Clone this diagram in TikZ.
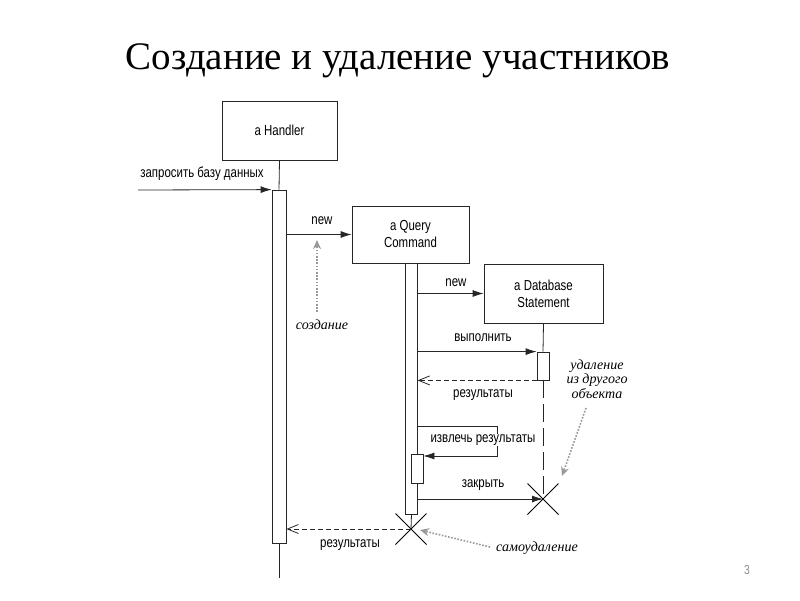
\documentclass[tikz,border=0pt]{standalone}
\usepackage{fontspec}
\setmainfont{Liberation Serif}
\newfontfamily\labfont[FakeStretch=0.79]{Liberation Sans}
\newfontfamily\notefont{Liberation Serif}
\usetikzlibrary{arrows.meta,shapes.misc}
\begin{document}
\begin{tikzpicture}[x=1pt,y=-1pt,
  lab/.style={font=\labfont\fontsize{14.5}{16}\selectfont, text=black, inner sep=0pt},
  objbox/.style={draw=black!85, line width=0.8pt, fill=white, align=center,
     font=\labfont\fontsize{14.5}{17}\selectfont, text=black, inner sep=0pt},
  actbar/.style={draw=black!85, line width=0.8pt, fill=white, inner sep=0pt, minimum width=12pt},
  life/.style={draw=black!85, line width=0.8pt},
  msg/.style={draw=black!85, line width=0.8pt, -{Latex[length=11pt,width=7pt]}},
  ret/.style={draw=black!85, line width=0.8pt, dash pattern=on 5pt off 3pt, -{Straight Barb[length=11pt,width=9pt]}},
  notearrow/.style={draw=black!40, line width=1.6pt, dash pattern=on 1.6pt off 1.6pt, -{Stealth[length=9pt,width=8pt]}},
  note/.style={font=\notefont\itshape\fontsize{14}{14.5}\selectfont, text=black, align=center, inner sep=0pt},
  killx/.style={draw=black, line width=1pt, cross out, minimum size=30pt, inner sep=0pt}
]
\useasboundingbox (0,0) rectangle (800,600);
% title
\node[font=\fontsize{39}{42}\selectfont, anchor=base, inner sep=0pt] (title) at (398,69) {Создание и удаление участников};
% objects
\node[objbox, minimum width=115pt, minimum height=59pt] (hbox) at (279.5,130.5) {a Handler};
\node[objbox, minimum width=117pt, minimum height=57pt] (qbox) at (410.5,234.5) {a Query\\Command};
\node[objbox, minimum width=119pt, minimum height=59pt] (dbox) at (543.5,293.5) {a Database\\Statement};
% activation bars
\node[actbar, minimum width=14pt, minimum height=353pt] (hbar) at (279,366.5) {};
\node[actbar, minimum width=11.5pt, minimum height=251pt] (qbar) at (411.5,388.5) {};
\node[actbar, minimum width=12pt, minimum height=28pt] (dbar) at (543,366) {};
\node[actbar, minimum width=12pt, minimum height=29pt] (nbar) at (417,468.5) {};
% destruction marks
\node[killx] (dbx) at (543,499) {};
\node[killx] (qx) at (411,529) {};
\coordinate (hend) at (279,578);
\coordinate (src) at (138,190);
% lifelines
\draw[life] (hbox.south) -- (hbar.north);
\draw[life] (hbar.south) -- (hend);
\draw[life] (qbar.south) -- (qx.center);
\draw[life] (dbox.south) -- (dbar.north);
\draw[life, dash pattern=on 18pt off 6pt] (dbar.south) -- (dbx.center);
% messages
\draw[msg] (src) -- (hbar.north west);
\node[lab] (l1) at (202,174) {запросить базу данных};
\draw[msg] (hbar.east |- qbox.west) -- (qbox.west);
\node[lab] (l2) at (322,221) {new};
\draw[msg] (qbar.east |- dbox.west) -- (dbox.west);
\node[lab] (l3) at (456,283) {new};
\draw[msg] (qbar.east |- dbar.north west) -- (dbar.north west);
\node[lab] (l4) at (483,338) {выполнить};
\draw[ret] (dbar.south west) -- (qbar.east |- dbar.south west);
\node[lab] (l5) at (483,395) {результаты};
\coordinate (self1) at (497,426);
\coordinate (self2) at (497,456);
\draw[msg] (qbar.east |- self1) -- (self1) -- (self2) -- (nbar.east |- self2);
\node[lab, fill=white, inner xsep=2pt, inner ysep=1pt] (l6) at (483,440) {извлечь результаты};
\draw[msg] (qbar.east |- dbx.center) -- (dbx.center);
\node[lab] (l7) at (483,485) {закрыть};
\draw[ret] (qx.center) -- (hbar.east |- qx.center);
\node[lab] (l8) at (350,545) {результаты};
% notes
\node[note] (n1) at (322,325) {создание};
\coordinate (n1a) at (317,312);
\coordinate (n1b) at (317,240);
\draw[notearrow] (n1a) -- (n1b);
\node[note] (n2) at (597,379) {удаление\\из другого\\объекта};
\coordinate (n2a) at (586,408);
\coordinate (n2b) at (562,476);
\draw[notearrow] (n2a) -- (n2b);
\node[note] (n3) at (537,548) {самоудаление};
\coordinate (n3a) at (490,547);
\coordinate (n3b) at (420,530);
\draw[notearrow] (n3a) -- (n3b);
% page number
\node[font=\labfont\fontsize{13}{14}\selectfont, text=black!45] (pg) at (747,570) {3};
\end{tikzpicture}
\end{document}
